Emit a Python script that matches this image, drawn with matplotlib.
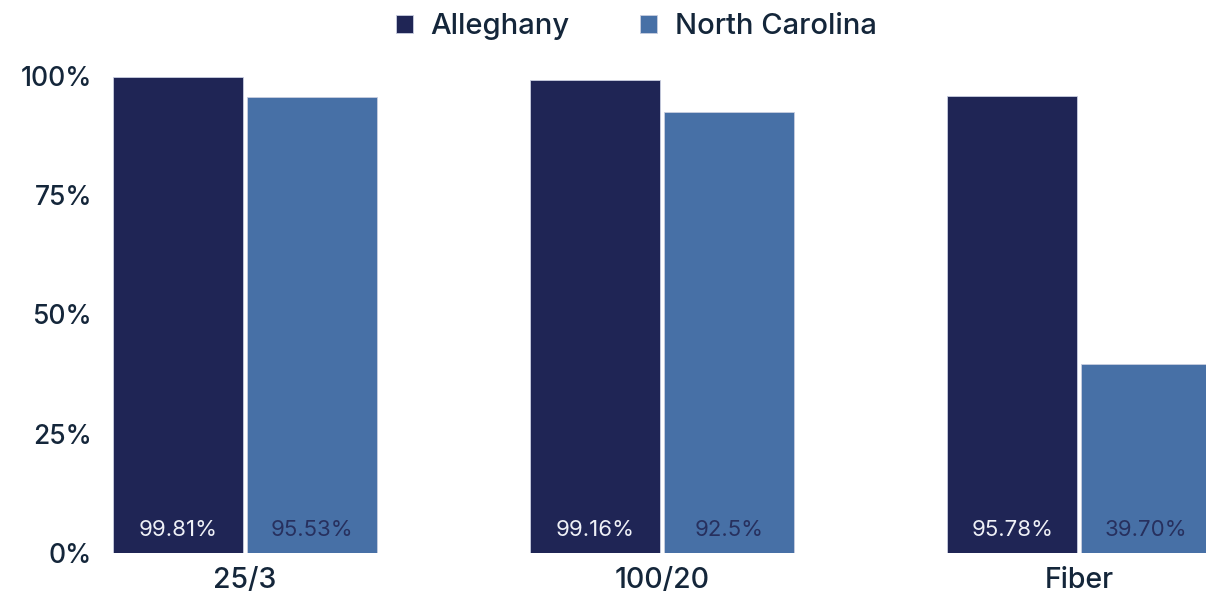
import numpy as np
import matplotlib.pyplot as plt

categories = ['25/3', '100/20', 'Fiber']
alleghany = [99.81, 99.16, 95.78]
north_carolina = [95.53, 92.5, 39.70]
alleghany_labels = ['99.81%', '99.16%', '95.78%']
nc_labels = ['95.53%', '92.5%', '39.70%']
y_ticks = [0, 25, 50, 75, 100]
y_tick_labels = ['0%', '25%', '50%', '75%', '100%']

dark = '#1f2555'
light = '#4770a6'
text_col = '#14263a'
font = 'Inter'

fig = plt.figure(figsize=(12.06, 6.04), dpi=100)
# axes placed in pixels: left edge at first bar, y=0 at 553px, y=100 at 76px
ax = fig.add_axes([113 / 1206, 51 / 604, 1 - 113 / 1206, 477 / 604])

x = np.arange(len(categories))
w = 0.312
off = 0.16
b1 = ax.bar(x - off, alleghany, w, color=dark, edgecolor='#c9cee0', linewidth=0.6, label='Alleghany')
b2 = ax.bar(x + off, north_carolina, w, color=light, edgecolor='#c9cee0', linewidth=0.6, label='North Carolina')

for xi, lab in zip(x - off, alleghany_labels):
    ax.text(xi, 4.8, lab, ha='center', va='center', color='#eef0f6', fontsize=16, family=font)
for xi, lab in zip(x + off, nc_labels):
    ax.text(xi, 4.8, lab, ha='center', va='center', color='#27305e', fontsize=16, family=font)

ax.set_xlim((113 - 245) / 417, (1206 - 245) / 417)
ax.set_ylim(0, 100)
ax.set_yticks(y_ticks)
ax.set_yticklabels(y_tick_labels)
ax.set_xticks(x)
ax.set_xticklabels(categories)
for lab in ax.get_yticklabels():
    lab.set_fontsize(19)
for lab in ax.get_xticklabels():
    lab.set_fontsize(20.5)
for lab in ax.get_xticklabels() + ax.get_yticklabels():
    lab.set_family(font)
    lab.set_fontweight(500)
    lab.set_color(text_col)
ax.tick_params(axis='y', length=0, pad=15)
ax.tick_params(axis='x', length=0, pad=10)
for s in ax.spines.values():
    s.set_visible(False)

leg = fig.legend(handles=[b1, b2], loc='center', bbox_to_anchor=(636 / 1206, 1 - 27 / 604),
                 ncol=2, frameon=False, handlelength=0.6, handleheight=0.6,
                 handletextpad=0.6, columnspacing=2.4,
                 prop={'family': font, 'size': 21, 'weight': 500})
for t in leg.get_texts():
    t.set_color(text_col)

fig.savefig('out.png', dpi=100)
